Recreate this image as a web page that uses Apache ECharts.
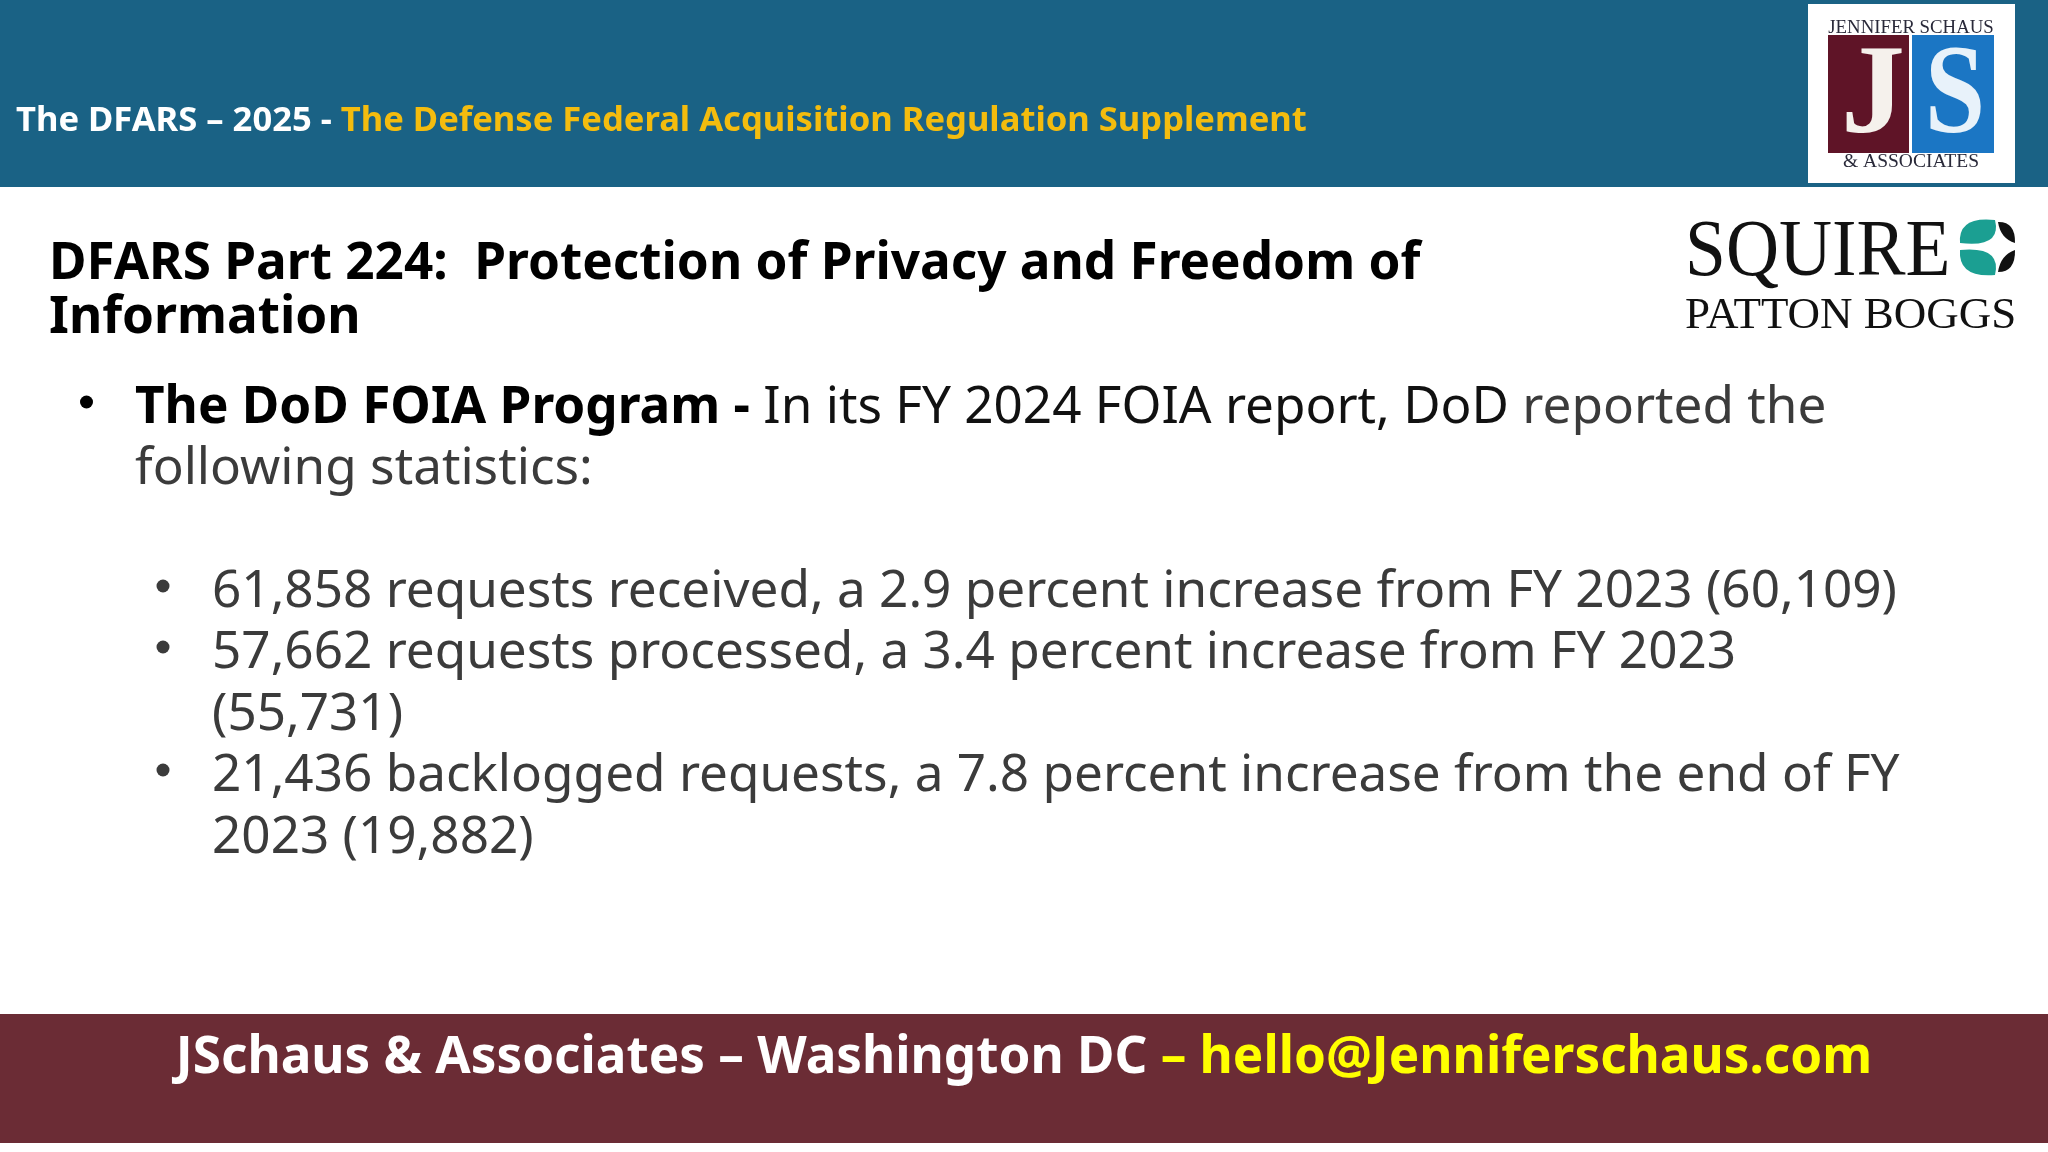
<!DOCTYPE html>
<html>
<head>
<meta charset="utf-8">
<title>The DFARS 2025</title>
<script src="https://cdn.jsdelivr.net/npm/echarts@6/dist/echarts.min.js"></script>
<style>
html,body{margin:0;padding:0;background:#fff;}
#main{width:2048px;height:1152px;}
</style>
</head>
<body>
<div id="main"></div>
<script>
var headerWhite = 'The DFARS – 2025 - ';
var headerGold = 'The Defense Federal Acquisition Regulation Supplement';
var titleLines = ['DFARS Part 224:  Protection of Privacy and Freedom of', 'Information'];
var introBold = 'The DoD FOIA Program - ';
var introDark = 'In its FY 2024 FOIA report, DoD ';
var introGrey = 'reported the';
var introLine2 = 'following statistics:';
var subLines = [
    '61,858 requests received, a 2.9 percent increase from FY 2023 (60,109)',
    '57,662 requests processed, a 3.4 percent increase from FY 2023',
    '(55,731)',
    '21,436 backlogged requests, a 7.8 percent increase from the end of FY',
    '2023 (19,882)'
];
var subLineY = [592, 653, 715, 776, 838];
var subBullets = [0, 1, 3];
var footerWhite = 'JSchaus & Associates – Washington DC ';
var footerDash = '– ';
var footerMail = 'hello@Jenniferschaus.com';

var FONT = '"Noto Sans","Open Sans",sans-serif';
var SERIF = '"Liberation Serif",serif';

// two quadratic curves, for the leaves of the logo
echarts.graphic.registerShape('leaf', echarts.graphic.extendShape({
    shape: { p: [] },
    buildPath: function (ctx, shape) {
        var p = shape.p;
        ctx.moveTo(p[0], p[1]);
        ctx.quadraticCurveTo(p[2], p[3], p[4], p[5]);
        ctx.quadraticCurveTo(p[6], p[7], p[0], p[1]);
        ctx.closePath();
    }
}));

function txt(x, y, text, size, color, weight, family, align) {
    return {
        type: 'text', x: x, y: y,
        style: {
            text: text, fontSize: size, fill: color, fontWeight: weight || 'normal',
            fontFamily: family || FONT, align: align || 'left', verticalAlign: 'middle'
        }
    };
}
function richTxt(x, y, text, rich, align) {
    return {
        type: 'text', x: x, y: y,
        style: { text: text, rich: rich, align: align || 'left', verticalAlign: 'middle', fontFamily: FONT }
    };
}
function box(x, y, w, h, color) {
    return { type: 'rect', shape: { x: x, y: y, width: w, height: h }, style: { fill: color } };
}
function dot(x, y, r, color) {
    return { type: 'circle', shape: { cx: x, cy: y, r: r }, style: { fill: color } };
}
function leaf(p, color) {
    return { type: 'leaf', shape: { p: p }, style: { fill: color } };
}

var els = [];
els.push(box(0, 0, 2048, 187, '#1a6285'));
els.push(richTxt(16, 121, '{w|' + headerWhite + '}{g|' + headerGold + '}', {
    w: { fontSize: 34.6, fontWeight: 'bold', fill: '#ffffff', fontFamily: FONT },
    g: { fontSize: 34.6, fontWeight: 'bold', fill: '#f4bc0e', fontFamily: FONT }
}));

// JS logo
els.push(box(1808, 4, 207, 179, '#ffffff'));
els.push(box(1828, 35, 81, 118, '#5f1427'));
els.push(box(1912, 35, 82, 118, '#1b76c4'));
els.push(txt(1911, 28, 'JENNIFER SCHAUS', 18.8, '#2a2a3a', 'normal', SERIF, 'center'));
els.push(txt(1911, 162, '& ASSOCIATES', 19.5, '#2a2a3a', 'normal', SERIF, 'center'));
els.push(txt(1873, 99, 'J', 128, '#f5f1ec', 'bold', SERIF, 'center'));
var bigS = txt(1955, 99, 'S', 128, '#e8f2fa', 'bold', SERIF, 'center');
bigS.scaleX = 0.85;
els.push(bigS);

// Squire logo
var squire = txt(1685, 254, 'SQUIRE', 73.5, '#111111', 'normal', SERIF);
squire.scaleY = 1.08;
els.push(squire);
els.push(txt(1685, 316, 'PATTON BOGGS', 45, '#111111', 'normal', SERIF));
els.push(leaf([1960, 243, 1958, 216, 1995, 220, 2002, 248], '#1b9f92'));
els.push(leaf([1960, 250, 1958, 278, 1995, 275, 2002, 246], '#1b9f92'));
els.push(leaf([1998, 222, 2015.5, 221.5, 2015, 243, 2000.5, 238.5], '#111111'));
els.push(leaf([1998, 272, 2015.5, 272, 2015, 250, 2000.5, 255], '#111111'));

// title
els.push(txt(49, 264, titleLines[0], 51.25, '#000000', 'bold'));
els.push(txt(49, 318, titleLines[1], 51.25, '#000000', 'bold'));

// intro bullet
els.push(dot(86.5, 402, 6.5, '#000000'));
els.push(richTxt(135, 408, '{b|' + introBold + '}{d|' + introDark + '}{g|' + introGrey + '}', {
    b: { fontSize: 51.25, fontWeight: 'bold', fill: '#000000', fontFamily: FONT },
    d: { fontSize: 51.25, fill: '#111111', fontFamily: FONT },
    g: { fontSize: 51.25, fill: '#3b3b3b', fontFamily: FONT }
}));
els.push(txt(135, 469, introLine2, 51.25, '#3b3b3b'));

// sub bullets
for (var i = 0; i < subLines.length; i++) {
    els.push(txt(212, subLineY[i], subLines[i], 51.25, '#3b3b3b'));
    if (subBullets.indexOf(i) >= 0) {
        els.push(dot(163, subLineY[i] - 6, 6.5, '#3b3b3b'));
    }
}

// footer
els.push(box(0, 1014, 2048, 129, '#6b2c35'));
els.push(richTxt(1024, 1058, '{w|' + footerWhite + '}{y|' + footerDash + footerMail + '}', {
    w: { fontSize: 51.2, fontWeight: 'bold', fill: '#ffffff', fontFamily: FONT },
    y: { fontSize: 51.2, fontWeight: 'bold', fill: '#ffff00', fontFamily: FONT }
}, 'center'));

var myChart = echarts.init(document.getElementById('main'));
myChart.setOption({
    animation: false,
    backgroundColor: '#ffffff',
    graphic: { elements: els }
});
</script>
</body>
</html>
